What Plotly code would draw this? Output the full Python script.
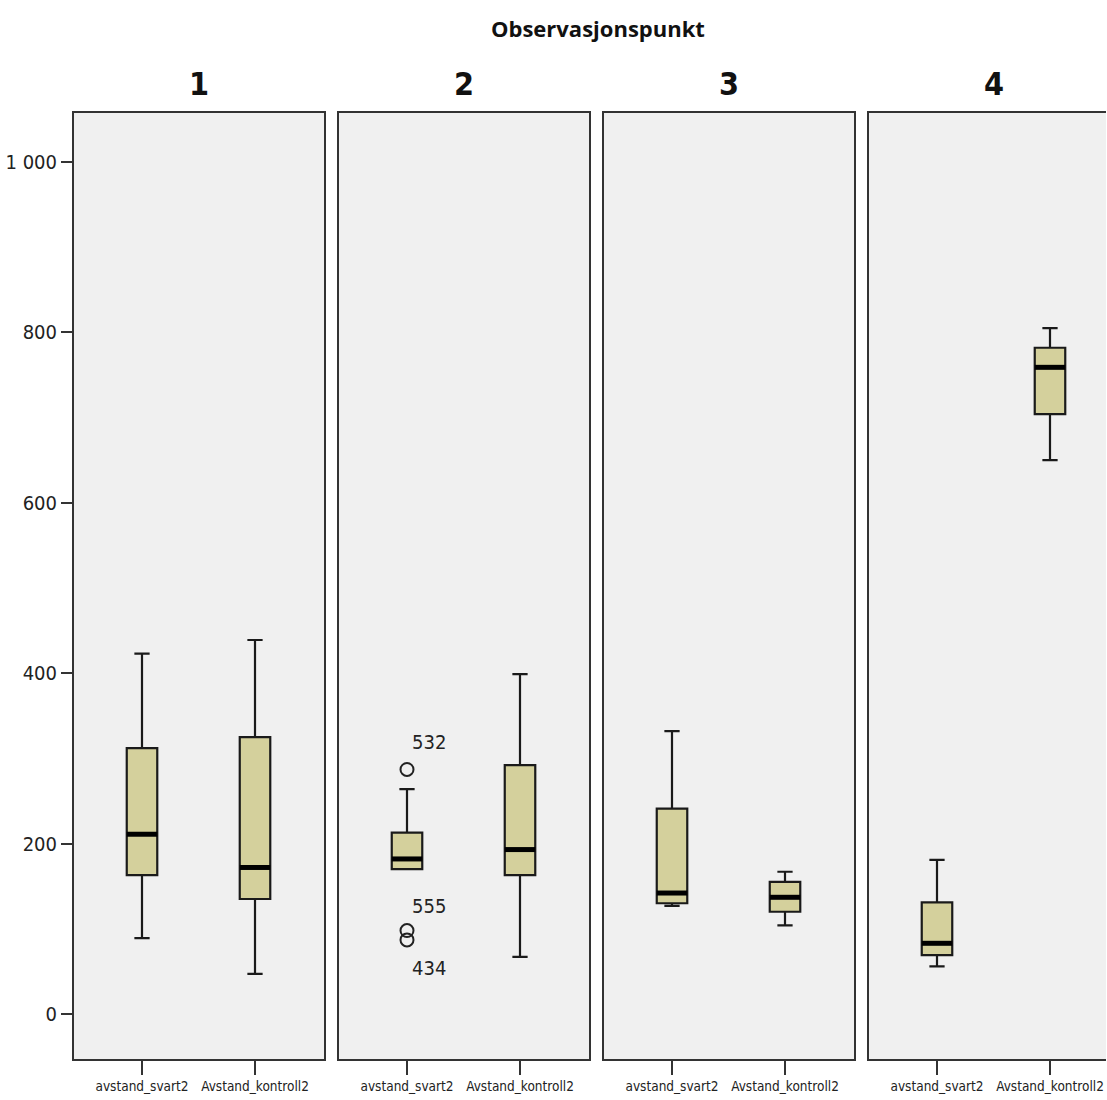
import plotly.graph_objects as go

# ---- data ----
panels = ["1", "2", "3", "4"]
categories = ["avstand_svart2", "Avstand_kontroll2"]
y_tickvals = [0, 200, 400, 600, 800, 1000]
y_ticktext = ["0", "200", "400", "600", "800", "1 000"]

# per panel: [svart2, kontroll2]
lowerfence = [[89, 47], [170, 67], [127, 104], [56, 650]]
q1 = [[163, 135], [170, 163], [130, 120], [69, 704]]
median = [[211, 172], [182, 193], [142, 137], [83, 759]]
q3 = [[312, 325], [213, 292], [241, 155], [131, 782]]
upperfence = [[423, 439], [264, 399], [332, 167], [181, 805]]

# outliers (panel 2, avstand_svart2)
outlier_panel = [2, 2, 2]
outlier_values = [287, 98, 87]
outlier_labels = ["532", "555", "434"]

W, H = 1107, 1100
panel_left = [74, 339, 604, 869]
panel_w = 250
cat_off = 68
cat_step = 113
top_px, bot_px = 113, 1059
y_range = [-52.8, 1057.5]

fill = "#D4D09C"
line_c = "#1a1a1a"
narrow = "Liberation Sans Narrow, DejaVu Sans Condensed, Arial Narrow, Liberation Sans, sans-serif"

fig = go.Figure()
layout = dict(
    width=W, height=H, margin=dict(l=0, r=0, t=0, b=0),
    paper_bgcolor="white", plot_bgcolor="#F0F0F0", showlegend=False,
)
annotations = []
for i, p in enumerate(panels):
    ax = "" if i == 0 else str(i + 1)
    xa, ya = "x" + ax, "y" + ax
    left = panel_left[i]
    right = min(left + panel_w, W - 1)
    r0 = -cat_off / cat_step
    r1 = r0 + (right - left) / cat_step
    layout["xaxis" + ax] = dict(
        domain=[left / W, right / W], range=[r0, r1], anchor=ya,
        tickvals=[0, 1], ticktext=categories, ticks="outside", ticklen=14,
        tickwidth=2, tickcolor="#333", showline=True, linecolor="#333",
        linewidth=2, mirror=True, showgrid=False, zeroline=False,
        tickfont=dict(family=narrow, size=13.5, color="#222"), automargin=False,
        fixedrange=True,
    )
    yd = dict(
        domain=[1 - bot_px / H, 1 - top_px / H], range=y_range, anchor=xa,
        showline=True, linecolor="#333", linewidth=2,
        mirror=(i < 3), showgrid=False, zeroline=False, automargin=False,
        fixedrange=True,
    )
    if i == 0:
        yd.update(tickvals=y_tickvals, ticktext=y_ticktext, ticks="outside",
                  ticklen=11, tickwidth=2, tickcolor="#333",
                  tickfont=dict(family=narrow, size=20, color="#222"))
    else:
        yd.update(showticklabels=False, ticks="", matches="y")
    layout["yaxis" + ax] = yd

    for j in range(2):
        fig.add_trace(go.Box(
            x=[j], q1=[q1[i][j]], median=[median[i][j]], q3=[q3[i][j]],
            lowerfence=[lowerfence[i][j]], upperfence=[upperfence[i][j]],
            width=0.27, whiskerwidth=0.5, fillcolor=fill,
            line=dict(color=line_c, width=2.2), xaxis=xa, yaxis=ya,
            boxpoints=False, hoverinfo="skip",
        ))
        # thick median line
        fig.add_trace(go.Scatter(
            x=[j - 0.135, j + 0.135], y=[median[i][j], median[i][j]],
            mode="lines", line=dict(color="black", width=5),
            xaxis=xa, yaxis=ya, hoverinfo="skip",
        ))

    annotations.append(dict(
        text="<b>%s</b>" % p, x=(left + panel_w / 2) / W, y=1 - 84 / H,
        xref="paper", yref="paper", showarrow=False,
        xanchor="center", yanchor="middle",
        font=dict(family=narrow, size=32, color="#111"),
    ))

# outliers
for pn, v, lab, ys in zip(outlier_panel, outlier_values, outlier_labels, [27, 25, -28]):
    ax = "" if pn == 1 else str(pn)
    fig.add_trace(go.Scatter(
        x=[0], y=[v], mode="markers",
        marker=dict(symbol="circle-open", size=13, color="#222", line=dict(width=2)),
        xaxis="x" + ax, yaxis="y" + ax, hoverinfo="skip",
    ))
    annotations.append(dict(
        text=lab, x=0, y=v, xref="x" + ax, yref="y" + ax, xshift=22, yshift=ys,
        xanchor="center", yanchor="middle",
        showarrow=False, font=dict(family=narrow, size=20, color="#222"),
    ))

annotations.append(dict(
    text="<b>Observasjonspunkt</b>", x=598 / W, y=1 - 28 / H,
    xref="paper", yref="paper", showarrow=False,
    xanchor="center", yanchor="middle",
    font=dict(family="Open Sans, sans-serif", size=22, color="#111"),
))
layout["annotations"] = annotations
fig.update_layout(**layout)
fig.write_html(
    "out.html",
    config={"displayModeBar": False},
    post_script="document.body.style.margin='0px';document.body.style.overflow='hidden';",
)
